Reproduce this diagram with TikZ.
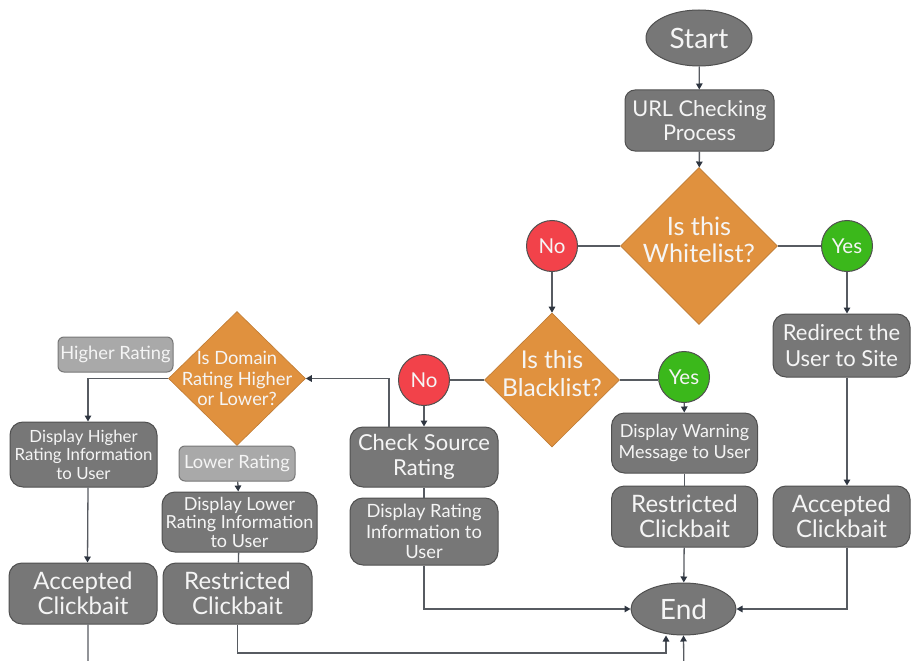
\documentclass[tikz,border=0pt]{standalone}
\usepackage{fontspec}
\setmainfont{Lato}
\usetikzlibrary{shapes.geometric,arrows.meta,calc}
\definecolor{boxgrey}{HTML}{777777}
\definecolor{boxedge}{HTML}{505050}
\definecolor{lightg}{HTML}{A9A9A9}
\definecolor{orng}{HTML}{E0913E}
\definecolor{redc}{HTML}{F2424A}
\definecolor{greenc}{HTML}{3BB81B}
\definecolor{linec}{HTML}{575B61}
\definecolor{tipc}{HTML}{2E3540}
\definecolor{txtc}{HTML}{F5F5F5}
\tikzset{
  base/.style={draw=boxedge, line width=1pt, text=txtc, align=center, inner sep=0pt},
  gbox/.style={base, fill=boxgrey, rounded corners=13pt},
  lbox/.style={base, fill=lightg, draw=boxgrey, rounded corners=6pt},
  oval/.style={base, fill=boxgrey, ellipse, minimum width=106pt, minimum height=56pt, font=\fontsize{28}{32}\selectfont},
  dia/.style={diamond, fill=orng, draw=orng!85!black, line width=0.6pt, inner sep=0pt},
  dtext/.style={text=txtc, align=center, inner sep=0pt},
  nocirc/.style={base, circle, fill=redc, draw=boxedge, minimum size=51pt, font=\fontsize{20.5}{23}\selectfont},
  yescirc/.style={base, circle, fill=greenc, draw=boxedge, minimum size=51pt, font=\fontsize{20.5}{23}\selectfont},
  conn/.style={draw=linec, line width=1.3pt},
  arr/.style={conn, -{Triangle[length=6pt,width=6.5pt,color=tipc]}},
  fbig/.style={font=\fontsize{22}{25.5}\selectfont},
  fclk/.style={font=\fontsize{24}{25.5}\selectfont},
  fmid/.style={font=\fontsize{18.3}{20.5}\selectfont},
  fsml/.style={font=\fontsize{16.8}{18.5}\selectfont},
  flab/.style={font=\fontsize{18.3}{20}\selectfont},
}
\begin{document}
\begin{tikzpicture}[x=1pt,y=-1pt]
\useasboundingbox (0,0) rectangle (911,661);
\clip (0,0) rectangle (911,661);
% top column
\node[oval] (start) at (699,38) {Start};
\node[gbox, minimum width=149pt, minimum height=61pt, rounded corners=10pt, font=\fontsize{21.7}{23.5}\selectfont] (url) at (699.5,120.5) {URL Checking\\Process};
\node[dia, minimum width=157pt, minimum height=157pt] (wl) at (699,246) {};
\node[dtext, font=\fontsize{25.3}{27.5}\selectfont, yshift=6pt] (wlt) at (wl) {Is this\\Whitelist?};
\node[nocirc] (nowl) at (552,246) {No};
\node[yescirc] (yeswl) at (847,246) {Yes};
% blacklist
\node[dia, minimum width=135pt, minimum height=134pt] (bl) at (552,380) {};
\node[dtext, font=\fontsize{24.5}{28}\selectfont, yshift=6pt] (blt) at (bl) {Is this\\Blacklist?};
\node[nocirc] (nobl) at (424,380) {No};
\node[yescirc] (yesbl) at (684,377) {Yes};
% right branch
\node[gbox, fbig, minimum width=137pt, minimum height=63pt] (redir) at (841.5,345.5) {Redirect the\\User to Site};
\node[gbox, fclk, minimum width=137pt, minimum height=61pt] (accR) at (841.5,516.5) {Accepted\\Clickbait};
\node[gbox, font=\fontsize{18}{21.5}\selectfont, minimum width=146pt, minimum height=60pt] (warn) at (684.5,443) {Display Warning\\Message to User};
\node[gbox, fclk, minimum width=146pt, minimum height=61pt] (restrR) at (684.5,516.5) {Restricted\\Clickbait};
\node[oval, minimum width=105pt, minimum height=52pt] (end) at (683.5,609) {End};
% check source branch
\node[gbox, fbig, minimum width=148pt, minimum height=60pt] (check) at (424,457) {Check Source\\Rating};
\node[gbox, fmid, minimum width=148pt, minimum height=67pt] (disprate) at (424,531.5) {Display Rating\\Information to\\User};
% domain branch
\node[dia, minimum width=137pt, minimum height=134pt] (dom) at (237,378.5) {};
\node[dtext, fmid] (domt) at (dom) {Is Domain\\Rating Higher\\or Lower?};
\node[lbox, flab, minimum width=115pt, minimum height=35pt] (hr) at (115.5,354.5) {Higher Rating};
\node[lbox, flab, minimum width=116pt, minimum height=35pt] (lr) at (237,463.5) {Lower Rating};
\node[gbox, fsml, minimum width=147pt, minimum height=65pt] (disphigh) at (83.5,454.5) {Display Higher\\Rating Information\\to User};
\node[gbox, font=\fontsize{18}{18.5}\selectfont, minimum width=155pt, minimum height=60pt] (displow) at (239.5,522) {Display Lower\\Rating Information\\to User};
\node[gbox, fclk, minimum width=149pt, minimum height=61pt] (restrL) at (237.5,593.5) {Restricted\\Clickbait};
\node[gbox, fclk, minimum width=148pt, minimum height=61pt] (accL) at (83,593.5) {Accepted\\Clickbait};
% free corner points
\coordinate (c1) at (389,427);
\coordinate (r1) at (237.5,653);
\coordinate (r2) at (666,653);
\coordinate (a1) at (88,680);
\coordinate (a2) at (684,680);
% connectors
\draw[arr] (start) -- (url);
\draw[arr] (url) -- (wl);
\draw[conn] (wl.west) -- (nowl);
\draw[conn] (wl.east) -- (yeswl);
\draw[arr] (nowl) -- (bl.north);
\draw[arr] (yeswl) -- (yeswl |- redir.north);
\draw[conn] (bl.west) -- (nobl);
\draw[conn] (bl.east) -- (bl.east -| yesbl.west);
\draw[arr] (nobl) -- (check);
\draw[arr] (yesbl) -- (warn);
\draw[conn] (warn) -- (restrR);
\draw[arr] (restrR) -- (end);
\draw[arr] (redir.south -| yeswl) -- (accR.north -| yeswl);
\draw[arr] (accR.south -| yeswl) |- (end.east);
\draw[conn] (check) -- (disprate);
\draw[arr] (disprate.south) |- (end.west);
\draw[arr] (c1) |- (dom.east);
\draw[arr] (dom.west) -| ([xshift=4.5pt]disphigh.north);
\draw[arr] ([xshift=4.5pt]disphigh.south) -- ([xshift=4.5pt]accL.north);
\draw[arr] (lr) -- (displow);
\draw[conn] (displow) -- (restrL);
\draw[arr] (restrL.south) -- (r1) -- (r2) -- (r2 |- end.south);
\draw[arr] ([xshift=5pt]accL.south) -- (a1) -- (a2) -- (end.south);
\end{tikzpicture}
\end{document}
